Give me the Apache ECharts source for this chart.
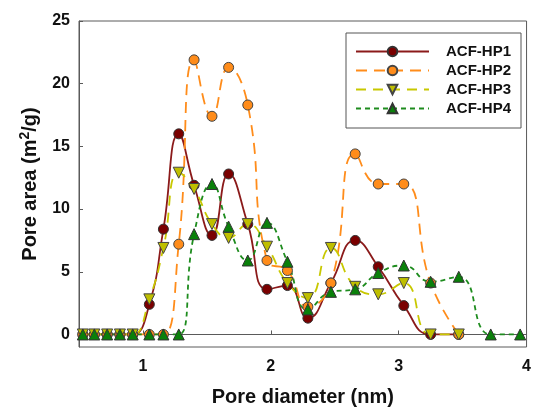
<!DOCTYPE html>
<html>
<head>
<meta charset="utf-8">
<script src="https://cdn.jsdelivr.net/npm/echarts@6/dist/echarts.min.js"></script>
<style>
  html, body { margin: 0; padding: 0; background: #fff; }
  #chart { width: 534px; height: 412px; }
</style>
</head>
<body>
<div id="chart"></div>
<script>
// pore diameter (nm) of each point
var diameters = [0.53, 0.62, 0.72, 0.82, 0.92, 1.05, 1.16, 1.28, 1.40, 1.54, 1.67, 1.82,
                 1.97, 2.13, 2.29, 2.47, 2.66, 2.84, 3.04, 3.25, 3.47, 3.72, 3.95];

// pore area (m2/g)
var hp1 = [0, 0, 0, 0, 0, 2.4, 8.4, 16.0, 11.9, 7.9, 12.8, 8.8, 3.6, 3.9, 1.3, 4.1, 7.5, 5.4, 2.3, 0, 0];
var hp2 = [0, 0, 0, 0, 0, 0, 0, 7.2, 21.9, 17.4, 21.3, 18.3, 5.9, 5.1, 2.2, 4.1, 14.4, 12.0, 12.0, 4.1, 0];
var hp3 = [0, 0, 0, 0, 0, 2.8, 6.9, 12.9, 11.6, 8.8, 7.7, 8.8, 7.0, 4.1, 2.9, 6.9, 3.8, 3.2, 4.1, 0, 0];
var hp4 = [0, 0, 0, 0, 0, 0, 0, 0, 8.0, 12.0, 8.6, 5.9, 8.9, 5.8, 2.0, 3.4, 3.6, 4.9, 5.5, 4.2, 4.6, 0, 0];

var seriesNames = ['ACF-HP1', 'ACF-HP2', 'ACF-HP3', 'ACF-HP4'];
var xTicks = [1, 2, 3, 4];
var yTicks = [0, 5, 10, 15, 20, 25];

function pairs(vals) {
    return vals.map(function (v, i) { return [diameters[i], v]; });
}

var font = "'Liberation Sans', Arial, sans-serif";
var axisColor = '#5a5a5a';

var myChart = echarts.init(document.getElementById('chart'));

var option = {
    animation: false,
    grid: {
        left: 79,
        right: 1,
        top: 21,
        bottom: 65,
        show: true,
        borderColor: axisColor,
        borderWidth: 1,
        backgroundColor: '#fff'
    },
    legend: {
        orient: 'vertical',
        left: 346,
        top: 33,
        padding: [11, 10, 12, 9],
        itemWidth: 73,
        itemHeight: 12,
        itemGap: 4,
        borderColor: '#555',
        borderWidth: 1,
        textStyle: {
            fontFamily: font,
            fontWeight: 'bold',
            fontSize: 15,
            color: '#111',
            padding: [0, 0, 0, 12]
        },
        data: seriesNames
    },
    xAxis: {
        type: 'value',
        min: 0.5,
        max: 4,
        name: 'Pore diameter (nm)',
        nameLocation: 'middle',
        nameGap: 40,
        nameTextStyle: { fontFamily: font, fontWeight: 'bold', fontSize: 20, color: '#111' },
        axisLine: { show: true, lineStyle: { color: axisColor, width: 1 } },
        axisTick: { inside: true, length: 4, customValues: xTicks, lineStyle: { color: axisColor } },
        axisLabel: {
            customValues: xTicks,
            margin: 12,
            fontFamily: font, fontWeight: 'bold', fontSize: 16, color: '#111'
        },
        splitLine: { show: false }
    },
    yAxis: {
        type: 'value',
        min: -1,
        max: 25,
        name: 'Pore area (m{sup|2}/g)',
        nameLocation: 'middle',
        nameGap: 37,
        nameTextStyle: {
            fontFamily: font, fontWeight: 'bold', fontSize: 20, color: '#111',
            rich: {
                sup: { fontFamily: font, fontWeight: 'bold', fontSize: 14, color: '#111', padding: [0, 0, 10, 0] }
            }
        },
        axisLine: { show: true, lineStyle: { color: axisColor, width: 1 } },
        axisTick: { inside: true, length: 4, customValues: yTicks, lineStyle: { color: axisColor } },
        axisLabel: {
            customValues: yTicks,
            margin: 9,
            fontFamily: font, fontWeight: 'bold', fontSize: 16, color: '#111'
        },
        splitLine: { show: false }
    },
    series: [
        {
            name: seriesNames[0],
            type: 'line',
            smooth: 0.5,
            data: pairs(hp1),
            symbol: 'circle',
            symbolSize: 10,
            lineStyle: { color: '#8b1a1a', width: 1.8, type: 'solid' },
            itemStyle: { color: '#7a0000', borderColor: '#333', borderWidth: 1 }
        },
        {
            name: seriesNames[1],
            type: 'line',
            smooth: 0.5,
            data: pairs(hp2),
            symbol: 'circle',
            symbolSize: 10,
            lineStyle: { color: '#ff8c1a', width: 1.8, type: [11, 7] },
            itemStyle: { color: '#ff8c1a', borderColor: '#444', borderWidth: 1 }
        },
        {
            name: seriesNames[2],
            type: 'line',
            smooth: 0.5,
            data: pairs(hp3),
            symbol: 'triangle',
            symbolRotate: 180,
            symbolSize: 11,
            lineStyle: { color: '#c8c800', width: 1.8, type: [10, 7] },
            itemStyle: { color: '#bfbf00', borderColor: '#444', borderWidth: 1 }
        },
        {
            name: seriesNames[3],
            type: 'line',
            smooth: 0.5,
            data: pairs(hp4),
            symbol: 'triangle',
            symbolSize: 11,
            lineStyle: { color: '#1e8c1e', width: 1.8, type: [5, 4] },
            itemStyle: { color: '#0a800a', borderColor: '#333', borderWidth: 1 }
        }
    ]
};

myChart.setOption(option);
</script>
</body>
</html>
